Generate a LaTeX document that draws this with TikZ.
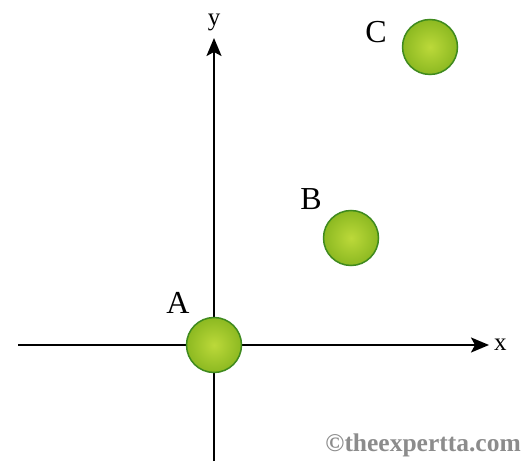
\documentclass[tikz,border=0pt]{standalone}
\usepackage{fontspec}
\setmainfont{Liberation Serif}
\usetikzlibrary{arrows.meta,positioning}
\definecolor{ballCore}{HTML}{BCD93A}
\definecolor{ballRim}{HTML}{8CB921}
\definecolor{ballEdge}{HTML}{3F8A1E}
\definecolor{markGray}{HTML}{8C8C8C}
\tikzset{
  ball/.style={
    circle,
    draw=ballEdge,
    line width=1.5pt,
    minimum size=55pt,
    inner sep=0pt,
    inner color=ballCore,
    outer color=ballRim
  },
  axis/.style={-{Stealth[length=18pt,width=15pt,inset=4pt]}, line width=2.2pt, draw=black},
  tag/.style={font=\fontsize{32}{32}\selectfont, inner sep=0pt},
  axlabel/.style={font=\fontsize{25}{25}\selectfont, inner sep=0pt}
}

\begin{document}
\begin{tikzpicture}[x=1pt,y=1pt]
  \useasboundingbox (0,0) rectangle (522,461);
  % axes
  \coordinate (xStart) at (18,116);
  \coordinate (xEnd) at (489,116);
  \coordinate (yStart) at (214,0);
  \coordinate (yEnd) at (214,423);
  \draw[axis] (xStart) -- (xEnd);
  \draw[axis] (yStart) -- (yEnd);
  \node[axlabel, right=5pt of xEnd] (xLabel) {x};
  \node[axlabel] (yLabel) at (214,439) {y};

  % balls
  \node[ball] (ballA) at (214,116) {};
  \node[ball] (ballB) at (351,223) {};
  \node[ball] (ballC) at (430,414) {};
  \node[tag] (tagA) at (178,158) {A};
  \node[tag] (tagB) at (311,262) {B};
  \node[tag] (tagC) at (376,429) {C};

  \node[font=\bfseries\fontsize{25.5}{25.5}\selectfont, text=markGray, anchor=east, inner sep=0pt]
    (mark) at (521,16) {©theexpertta.com};
\end{tikzpicture}
\end{document}
